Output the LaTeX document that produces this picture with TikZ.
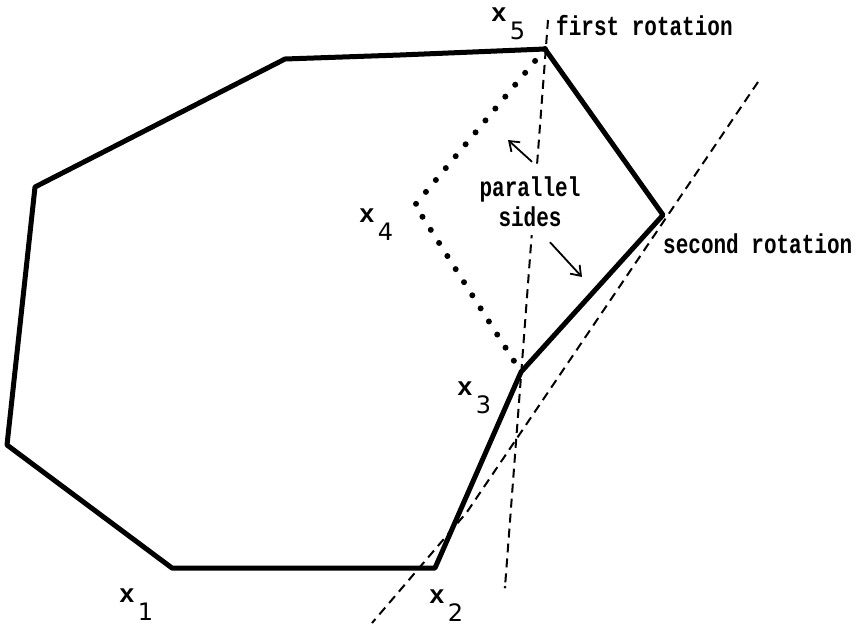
\documentclass[tikz,border=0pt]{standalone}
\usepackage{fontspec}
\newfontfamily\notefont{Liberation Mono}
\newfontfamily\digitfont{DejaVu Sans}
\usetikzlibrary{arrows.meta}
\newcommand{\ptname}[1]{\textbf{x}\hspace{3pt}\raisebox{-18pt}{\digitfont\fontsize{24}{24}\selectfont #1}}
\newcommand{\tall}[1]{\scalebox{1}[1.3]{\bfseries #1}}

\begin{document}
\begin{tikzpicture}[x=1pt,y=-1pt,>={Straight Barb[length=9pt,width=13pt]},
  hull/.style={line width=5pt,line join=round},
  rotline/.style={line width=2pt,dash pattern=on 9pt off 6pt},
  oldside/.style={line width=6pt,line cap=round,dash pattern=on 0pt off 15.5pt},
  ptlabel/.style={font=\notefont\fontsize{26}{26}\selectfont,inner sep=0pt,anchor=base west,text height=0.5em},
  note/.style={font=\notefont\fontsize{21}{30}\selectfont,inner sep=0pt}]
\useasboundingbox (0,0) rectangle (864,627);
% hull corners
\coordinate (x1) at (172,568);
\coordinate (x2) at (435,568);
\coordinate (x3) at (521,372);
\coordinate (x6) at (663,215);
\coordinate (x5) at (545,49);
\coordinate (x7) at (285,59);
\coordinate (x8) at (35,187);
\coordinate (x9) at (7,445);
\coordinate (x4) at (415,205);
% ends of the rotated lines
\coordinate (r1a) at (548,20);
\coordinate (r1b) at (505,587);
\coordinate (r2a) at (758,82);
\coordinate (r2m) at (467,512);
\coordinate (r2b) at (372,623);
%%%
\draw[rotline] (r1a)--(r1b);
\draw[rotline] (r2a)--(r2m)--(r2b);
\fill (r1b) circle (1.5pt);
\draw[oldside] (x5)--(x4)--(x3);
\draw[hull] (x1)--(x2)--(x3)--(x6)--(x5)--(400,55)--(x7)--(x8)--(x9)--cycle;
%%%
\node[note,fill=white,align=center,inner ysep=8pt,inner xsep=2pt] (par) at (530,202) {\tall{parallel}\\\tall{sides}};
\coordinate (tipa) at (508,140);
\coordinate (tipb) at (582,277);
\draw[line width=1.8pt,->] ([shift={(2,-7)}]par.north)--(tipa);
\draw[line width=1.8pt,->] ([shift={(20,7)}]par.south)--(tipb);
\node[note,anchor=base west] (first) at (556,35) {\tall{first rotation}};
\node[note,anchor=base west] (second) at (663,253) {\tall{second rotation}};
\node[ptlabel] (l5) at (491,21) {\ptname{5}};
\node[ptlabel] (l4) at (359,222) {\ptname{4}};
\node[ptlabel] (l3) at (457,395) {\ptname{3}};
\node[ptlabel] (l2) at (429,603) {\ptname{2}};
\node[ptlabel] (l1) at (119,602) {\ptname{1}};
\end{tikzpicture}
\end{document}
